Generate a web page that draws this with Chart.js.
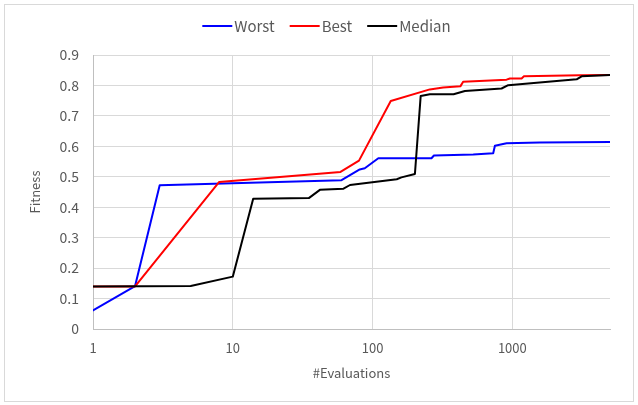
<!DOCTYPE html>
<html>
<head>
<meta charset="utf-8">
<script src="https://cdn.jsdelivr.net/npm/chart.js@4.4.1/dist/chart.umd.min.js"></script>
<style>
  html, body { margin: 0; padding: 0; background: #ffffff; }
  #wrap { position: relative; width: 638px; height: 405px; }
</style>
</head>
<body>
<div id="wrap"><canvas id="c" width="638" height="405"></canvas></div>
<script>
// Fitness vs. number of evaluations (log x axis)
const worstX  = [1, 2, 3, 60, 81, 88, 110, 264, 275, 525, 730, 751, 910, 1575, 5000];
const worstY  = [0.061, 0.141, 0.472, 0.489, 0.524, 0.528, 0.561, 0.561, 0.570, 0.5735, 0.577, 0.602, 0.610, 0.613, 0.614];

const bestX   = [1, 2, 8, 59, 80, 135, 257, 320, 425, 445, 910, 961, 1166, 1211, 3047, 5000];
const bestY   = [0.14, 0.14, 0.483, 0.516, 0.553, 0.749, 0.787, 0.793, 0.797, 0.812, 0.819, 0.823, 0.823, 0.830, 0.8335, 0.8345];

const medianX = [1, 5, 10, 14, 35, 42, 62, 69, 149, 161, 201, 221, 257, 380, 458, 838, 935, 2886, 3134, 5000];
const medianY = [0.14, 0.141, 0.172, 0.428, 0.430, 0.457, 0.461, 0.473, 0.492, 0.498, 0.509, 0.765, 0.771, 0.771, 0.782, 0.790, 0.801, 0.820, 0.830, 0.8345];

const xTicks = [1, 10, 100, 1000];
const seriesNames = ['Worst', 'Best', 'Median'];

const FONT = '"Noto Sans CJK JP", "Noto Sans", sans-serif';
const TEXT = '#595959';

const toPoints = (xs, ys) => xs.map((x, i) => ({ x: x, y: ys[i] }));

const lineStyle = {
  pointRadius: 0,
  pointHoverRadius: 0,
  borderWidth: 2,
  tension: 0,
  borderJoinStyle: 'round',
  borderCapStyle: 'round',
  fill: false
};

// outer frame of the chart
const frame = {
  id: 'frame',
  beforeDraw(chart) {
    const ctx = chart.ctx;
    ctx.save();
    ctx.fillStyle = '#ffffff';
    ctx.fillRect(0, 0, chart.width, chart.height);
    ctx.strokeStyle = '#d9d9d9';
    ctx.lineWidth = 1;
    ctx.strokeRect(4.5, 4.5, 629, 397);
    ctx.restore();
  }
};

// compact legend row: line sample directly followed by the series name
const lineLegend = {
  id: 'lineLegend',
  afterDraw(chart) {
    const ctx = chart.ctx;
    const sample = 30, gapText = 2, gapItem = 15, cy = 26;
    ctx.save();
    ctx.font = '15px ' + FONT;
    ctx.textBaseline = 'middle';
    ctx.textAlign = 'left';
    let total = 0;
    chart.data.datasets.forEach((ds, i) => {
      total += sample + gapText + ctx.measureText(ds.label).width + (i ? gapItem : 0);
    });
    let x = 326.5 - total / 2;
    chart.data.datasets.forEach(ds => {
      ctx.strokeStyle = ds.borderColor;
      ctx.lineWidth = 2;
      ctx.beginPath();
      ctx.moveTo(x, cy);
      ctx.lineTo(x + sample, cy);
      ctx.stroke();
      x += sample + gapText;
      ctx.fillStyle = TEXT;
      ctx.fillText(ds.label, x, cy);
      x += ctx.measureText(ds.label).width + gapItem;
    });
    ctx.restore();
  }
};

new Chart(document.getElementById('c'), {
  type: 'line',
  data: {
    datasets: [
      Object.assign({ label: seriesNames[0], data: toPoints(worstX, worstY), borderColor: '#0000ff', backgroundColor: '#0000ff', order: 2 }, lineStyle),
      Object.assign({ label: seriesNames[1], data: toPoints(bestX, bestY), borderColor: '#ff0000', backgroundColor: '#ff0000', order: 1 }, lineStyle),
      Object.assign({ label: seriesNames[2], data: toPoints(medianX, medianY), borderColor: '#000000', backgroundColor: '#000000', order: 0 }, lineStyle)
    ]
  },
  options: {
    responsive: false,
    animation: false,
    events: [],
    layout: { padding: { top: 55, left: 0, right: 28, bottom: 0 } },
    plugins: {
      tooltip: { enabled: false },
      legend: { display: false }
    },
    scales: {
      x: {
        type: 'logarithmic',
        min: 1,
        max: 5000,
        afterBuildTicks(scale) {
          scale.ticks = xTicks.map(v => ({ value: v }));
        },
        afterFit(scale) { scale.height = 76; },
        ticks: {
          color: TEXT,
          font: { family: FONT, size: 13 },
          padding: 11,
          maxRotation: 0,
          autoSkip: false,
          callback: v => String(v)
        },
        grid: { color: '#d9d9d9', lineWidth: 1, drawTicks: false },
        border: { display: true, color: '#bfbfbf', width: 1 },
        title: {
          display: true,
          text: '#Evaluations',
          color: TEXT,
          font: { family: FONT, size: 13 },
          padding: { top: 0, bottom: 24 }
        }
      },
      y: {
        min: 0,
        max: 0.9,
        afterFit(scale) { scale.width = 93; },
        ticks: {
          stepSize: 0.1,
          color: TEXT,
          font: { family: FONT, size: 14 },
          padding: 14,
          callback: v => (Math.abs(v) < 1e-9 ? '0' : v.toFixed(1))
        },
        grid: { color: '#d9d9d9', lineWidth: 1, drawTicks: false },
        border: { display: true, color: '#bfbfbf', width: 1 },
        title: {
          display: true,
          text: 'Fitness',
          color: TEXT,
          font: { family: FONT, size: 13 },
          padding: { top: 27, bottom: 0 }
        }
      }
    }
  },
  plugins: [frame, lineLegend]
});
</script>
</body>
</html>
